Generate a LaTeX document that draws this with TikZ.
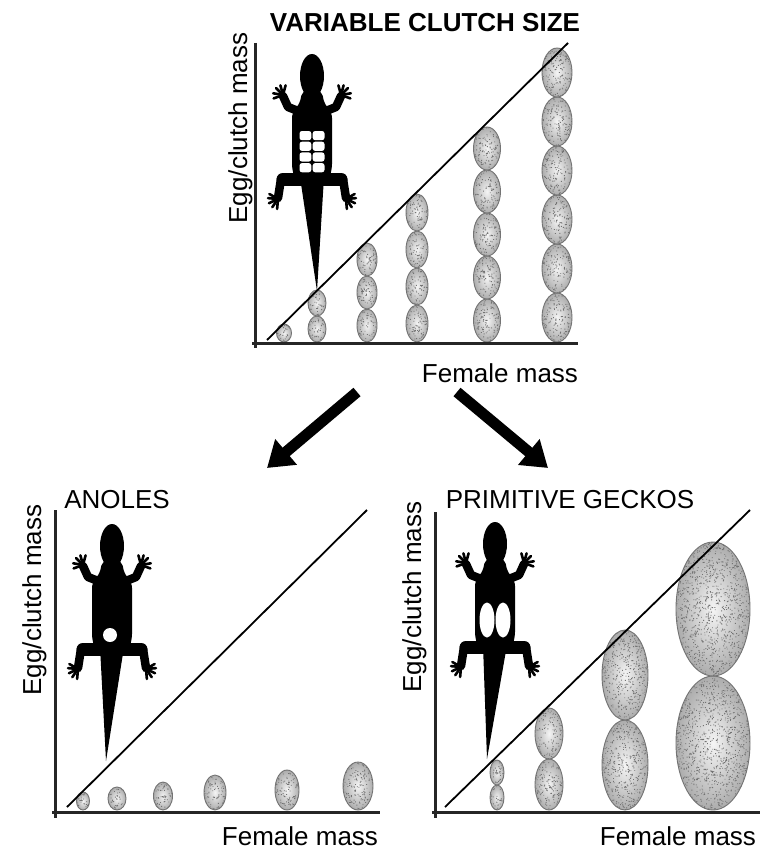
\documentclass[tikz,border=0pt]{standalone}
\usepackage{fontspec}
\setmainfont{Liberation Sans}
\usetikzlibrary{arrows.meta}

% One stippled egg: centre x, centre y, width, height
\newcommand{\eggat}[4]{%
  \pgfmathsetmacro\erx{#3/2}%
  \pgfmathsetmacro\ery{#4/2}%
  \pgfmathtruncatemacro\edots{#3*#4/8}%
  \begin{scope}
    \clip (#1,#2) ellipse [x radius=\erx pt, y radius=\ery pt];
    \shade[inner color=gray!8, outer color=gray!65]
      (#1,#2) ellipse [x radius=\erx pt, y radius=\ery pt];
    \fill[black!55] \foreach \k in {1,...,\edots}{
      (#1+\erx*rand-0.45, #2+\ery*rand-0.45) rectangle ++(0.9,0.9)
    };
  \end{scope}
  \draw[black!55, line width=0.9pt] (#1,#2) ellipse [x radius=\erx pt, y radius=\ery pt];
}

% A column of equal eggs: centre x, bottom y, width, height, count
\newcommand{\eggcol}[5]{%
  \foreach \j in {1,...,#5}{%
    \pgfmathsetmacro\ecy{#2-#4/2-(\j-1)*#4}%
    \eggat{#1}{\ecy}{#3}{#4}%
  }%
}

\tikzset{
  lbl/.style={font=\fontsize{26}{30}\selectfont, inner sep=0pt},
  axisline/.style={line width=3pt, black!85},
  trend/.style={line width=1.8pt, black},
  bigarrow/.style={line width=11pt, -{Triangle[width=32pt,length=25pt]}},
  finger/.style={line width=2.6pt, line cap=round},
  limb/.style={line width=8.5pt, line cap=round, line join=round},
  % lizard silhouette seen from above; origin at the snout, y grows tailwards;
  % the argument is the sideways offset of the tail tip
  pics/lizard/.style={code={
    \fill (0,21) ellipse [x radius=12pt, y radius=22pt];
    \fill[rounded corners=5pt] (-10,36) -- (-12,48) -- (-20,58) -- (-20,114)
      -- (-15,130) -- (15,130) -- (20,114) -- (20,58) -- (12,48) -- (10,36) -- cycle;
    \draw[limb] (-14,56) -- (-24,52) -- (-29,41);
    \draw[limb] (14,56) -- (24,52) -- (29,41);
    \foreach \a in {-170,-135,-105,-75,160} \draw[finger] (-29,40) -- ++(\a:10);
    \foreach \a in {-10,-45,-75,-105,20} \draw[finger] (29,40) -- ++(\a:10);
    \draw[line width=13pt, line cap=round] (-29,124) -- (29,124);
    \draw[limb] (-31,124) -- (-34,143);
    \draw[limb] (31,124) -- (34,143);
    \foreach \a in {95,125,155,185,-150} \draw[finger] (-34,144) -- ++(\a:10);
    \foreach \a in {85,55,25,-5,-30} \draw[finger] (34,144) -- ++(\a:10);
    \fill (-12,122) -- (12,122) -- (#1,236) -- cycle;
  }}
}

\begin{document}
\begin{tikzpicture}[x=1pt, y=-1pt]
\useasboundingbox (0,0) rectangle (772,851);
\fill[white] (0,0) rectangle (772,851);
\pgfmathsetseed{7}

% ---------- upper panel: variable clutch size ----------
\eggcol{284}{342}{15}{18}{1}
\eggcol{317}{342}{18}{26}{2}
\eggcol{367}{342}{20}{33}{3}
\eggcol{417}{342}{22}{37}{4}
\eggcol{487}{342}{27}{43}{5}
\eggcol{557}{342}{30}{49}{6}
\draw[trend] (267,340) -- (568,43);
\draw[axisline] (255,43) -- (255,348);
\draw[axisline] (252,343) -- (578,343);
\pic at (312,55) {lizard=5};
\foreach \yy in {135.6,146.3,157,167.7}{
  \fill[white, rounded corners=2.5pt] (299.5,\yy-4.6) rectangle (311.3,\yy+4.6);
  \fill[white, rounded corners=2.5pt] (312.7,\yy-4.6) rectangle (324.5,\yy+4.6);
}
\node[lbl, font=\fontsize{26}{30}\selectfont\bfseries, anchor=base] (ttl) at (425,32) {VARIABLE CLUTCH SIZE};
\node[lbl, rotate=90, anchor=base] (ytop) at (247,128) {Egg/clutch mass};
\node[lbl, anchor=base] (xtop) at (500,382) {Female mass};

% ---------- arrows ----------
\coordinate (la) at (357,392);
\coordinate (lb) at (267,468);
\coordinate (ra) at (457,392);
\coordinate (rb) at (548,468);
\draw[bigarrow] (la) -- (lb);
\draw[bigarrow] (ra) -- (rb);

% ---------- lower left panel: anoles ----------
\eggat{83}{801}{13}{18}
\eggat{117}{798.5}{18}{23}
\eggat{163}{796}{19}{28}
\eggat{215}{792.5}{22}{35}
\eggat{287}{790}{24}{40}
\eggat{358}{786}{30}{48}
\draw[trend] (67,807) -- (367,510);
\draw[axisline] (55,510) -- (55,818);
\draw[axisline] (52,812) -- (380,812);
\pic at (112,525) {lizard=-6};
\fill[white] (110,635) circle [radius=7pt];
\node[lbl, anchor=base] (ano) at (117,508) {ANOLES};
\node[lbl, rotate=90, anchor=base] (yleft) at (41,600) {Egg/clutch mass};
\node[lbl, anchor=base] (xleft) at (300,845) {Female mass};

% ---------- lower right panel: primitive geckos ----------
\eggcol{497}{810}{14}{25}{2}
\eggcol{549}{810}{28}{51}{2}
\eggcol{625}{810}{46}{90}{2}
\eggcol{713}{810}{74}{134}{2}
\draw[trend] (445,807) -- (750,510);
\draw[axisline] (435,512) -- (435,818);
\draw[axisline] (432,812) -- (760,812);
\pic at (495,523) {lizard=-8};
\fill[white] (487,620) ellipse [x radius=7.5pt, y radius=17.5pt];
\fill[white] (503,620) ellipse [x radius=7.5pt, y radius=17.5pt];
\node[lbl, anchor=base] (gek) at (570,508) {PRIMITIVE GECKOS};
\node[lbl, rotate=90, anchor=base] (yright) at (421,597) {Egg/clutch mass};
\node[lbl, anchor=base] (xright) at (678,845) {Female mass};
\end{tikzpicture}
\end{document}
